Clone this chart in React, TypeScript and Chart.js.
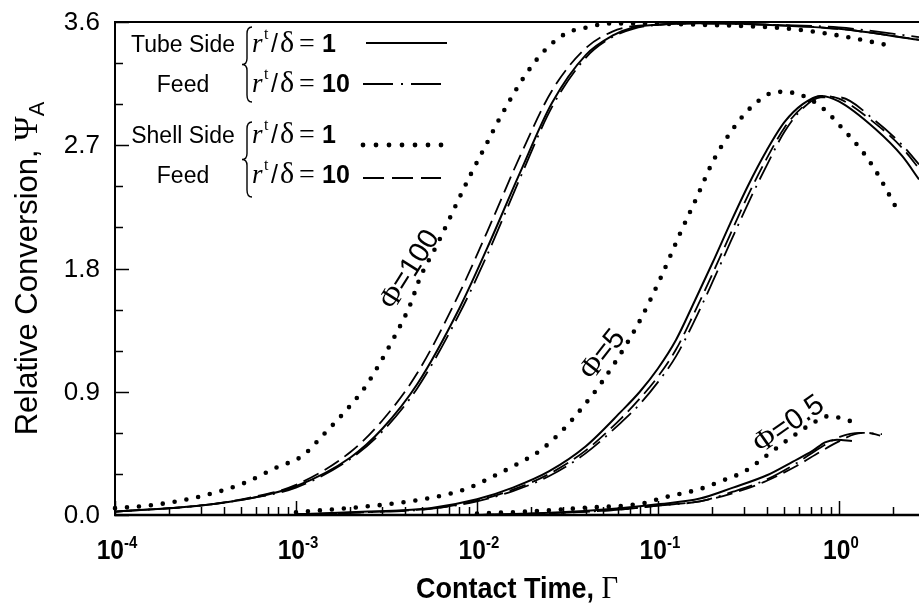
import React, { useEffect, useRef } from "react";
import { Chart, registerables } from "chart.js";

Chart.register(...registerables);

// ---------------- axes ----------------
const X_MIN = 1e-4;
const X_MAX = 2.77;
const Y_MIN = 0;
const Y_MAX = 3.6;
const Y_TICK_STEP = 0.3;
const Y_LABELS = [0, 0.9, 1.8, 2.7, 3.6];
const X_DECADES = [-4, -3, -2, -1, 0];

// ---------------- Φ = 100 ----------------
const P100_X = [1e-4, 3e-4, 5.5e-4, 1e-3, 2e-3, 3e-3, 4.7e-3, 8e-3, 0.0114, 0.0173, 0.026, 0.04, 0.056, 0.073, 0.1, 0.17, 0.4, 1.0, 2.77];
const P100_TUBE_R1 = [0.024, 0.07, 0.12, 0.21, 0.42, 0.63, 0.96, 1.51, 1.95, 2.5, 3.01, 3.36, 3.5, 3.56, 3.58, 3.59, 3.58, 3.55, 3.47];
const P100_TUBE_R10 = [0.024, 0.07, 0.12, 0.2, 0.41, 0.61, 0.93, 1.47, 1.9, 2.46, 2.98, 3.34, 3.49, 3.55, 3.58, 3.59, 3.58, 3.56, 3.49];
const P100_SHELL_R10 = [0.024, 0.07, 0.125, 0.22, 0.46, 0.69, 1.04, 1.62, 2.07, 2.62, 3.1, 3.41, 3.53, 3.57, 3.58, 3.59, 3.58, 3.55, 3.47];
const P100_SHELL_R1_X = [1e-4, 1.56e-4, 2.84e-4, 5.1e-4, 7.9e-4, 1.08e-3, 1.45e-3, 1.91e-3, 2.4e-3, 2.91e-3, 3.43e-3, 4.26e-3, 4.84e-3, 6.0e-3, 9.1e-3, 0.0114, 0.0134, 0.0189, 0.0244, 0.0314, 0.0405, 0.0543, 0.171, 0.536, 1.01, 2.04];
const P100_SHELL_R1 = [0.05, 0.07, 0.13, 0.23, 0.35, 0.43, 0.6, 0.77, 0.93, 1.11, 1.28, 1.53, 1.73, 1.97, 2.47, 2.72, 2.9, 3.23, 3.41, 3.52, 3.56, 3.59, 3.58, 3.55, 3.5, 3.42];

// ---------------- Φ = 5 ----------------
const P5_X = [0.001, 0.0025, 0.0055, 0.01, 0.0158, 0.0251, 0.0398, 0.0631, 0.0794, 0.1, 0.126, 0.158, 0.2, 0.251, 0.316, 0.398, 0.501, 0.631, 0.794, 1.0, 1.585, 2.24, 2.77];
const P5_TUBE_R1 = [0.005, 0.025, 0.05, 0.115, 0.2, 0.32, 0.5, 0.76, 0.9, 1.07, 1.28, 1.55, 1.84, 2.13, 2.41, 2.66, 2.87, 3.0, 3.06, 3.02, 2.82, 2.62, 2.45];
const P5_SHELL_R10 = [0.004, 0.022, 0.046, 0.105, 0.185, 0.3, 0.47, 0.71, 0.85, 1.01, 1.21, 1.47, 1.76, 2.05, 2.34, 2.6, 2.83, 2.98, 3.06, 3.04, 2.86, 2.68, 2.53];
const P5_TUBE_R10 = [0.004, 0.02, 0.044, 0.1, 0.175, 0.285, 0.45, 0.68, 0.81, 0.97, 1.16, 1.41, 1.7, 1.99, 2.28, 2.55, 2.8, 2.97, 3.05, 3.05, 2.88, 2.7, 2.56];
const P5_SHELL_R1_X = [1e-3, 2.34e-3, 3.76e-3, 6.83e-3, 9.1e-3, 0.0122, 0.0166, 0.0223, 0.0298, 0.0385, 0.049, 0.0766, 0.1026, 0.132, 0.164, 0.201, 0.26, 0.335, 0.454, 0.61, 0.816, 1.05, 1.34, 1.62, 2.06];
const P5_SHELL_R1 = [0.02, 0.06, 0.09, 0.15, 0.2, 0.28, 0.37, 0.47, 0.62, 0.79, 0.97, 1.38, 1.72, 2.05, 2.32, 2.58, 2.82, 2.99, 3.09, 3.07, 2.97, 2.82, 2.66, 2.5, 2.25];

// ---------------- Φ = 0.5 ----------------
const P05_TUBE_R1_X = [0.01, 0.0288, 0.0617, 0.1026, 0.1706, 0.26, 0.4, 0.557, 0.718, 0.837, 0.975, 1.18];
const P05_TUBE_R1 = [0.0, 0.02, 0.05, 0.08, 0.12, 0.2, 0.29, 0.39, 0.47, 0.53, 0.55, 0.54];
const P05_TUBE_R10_X = [0.01, 0.0288, 0.0617, 0.1026, 0.1706, 0.26, 0.4, 0.586, 0.785, 1.01, 1.305, 1.73];
const P05_TUBE_R10 = [0.0, 0.015, 0.04, 0.07, 0.1, 0.17, 0.26, 0.38, 0.49, 0.57, 0.6, 0.59];
const P05_SHELL_R10_X = [0.01, 0.0288, 0.0617, 0.1026, 0.1706, 0.26, 0.4, 0.586, 0.785, 0.975, 1.225, 1.43, 1.69];
const P05_SHELL_R10 = [0.0, 0.015, 0.04, 0.07, 0.1, 0.16, 0.25, 0.36, 0.46, 0.53, 0.59, 0.6, 0.58];
const P05_SHELL_R1_X = [0.01, 0.0223, 0.0368, 0.0866, 0.1026, 0.1706, 0.226, 0.303, 0.404, 0.536, 0.736, 0.859, 1.01, 1.305];
const P05_SHELL_R1 = [0.01, 0.03, 0.05, 0.09, 0.12, 0.19, 0.25, 0.32, 0.44, 0.56, 0.68, 0.72, 0.71, 0.66];

// curve annotations (anchored in data coordinates)
const PHI_LABELS = [
  { value: "100", x: 4.27e-3, y: 1.79, angle: -58 },
  { value: "5", x: 0.0497, y: 1.17, angle: -52 },
  { value: "0.5", x: 0.53, y: 0.66, angle: -35 },
];

type StyleKey = "solid" | "dashdot" | "dashed" | "dotted";

const SERIES: { xs: number[]; ys: number[]; style: StyleKey }[] = [
  { xs: P100_X, ys: P100_SHELL_R10, style: "dashed" },
  { xs: P100_X, ys: P100_TUBE_R10, style: "dashdot" },
  { xs: P100_X, ys: P100_TUBE_R1, style: "solid" },
  { xs: P100_SHELL_R1_X, ys: P100_SHELL_R1, style: "dotted" },
  { xs: P5_X, ys: P5_SHELL_R10, style: "dashed" },
  { xs: P5_X, ys: P5_TUBE_R10, style: "dashdot" },
  { xs: P5_X, ys: P5_TUBE_R1, style: "solid" },
  { xs: P5_SHELL_R1_X, ys: P5_SHELL_R1, style: "dotted" },
  { xs: P05_SHELL_R10_X, ys: P05_SHELL_R10, style: "dashed" },
  { xs: P05_TUBE_R10_X, ys: P05_TUBE_R10, style: "dashdot" },
  { xs: P05_TUBE_R1_X, ys: P05_TUBE_R1, style: "solid" },
  { xs: P05_SHELL_R1_X, ys: P05_SHELL_R1, style: "dotted" },
];

const STYLES: Record<StyleKey, any> = {
  solid: { borderDash: [], borderWidth: 2, borderCapStyle: "butt" },
  dashdot: { borderDash: [26, 7, 2, 7], borderWidth: 1.8, borderCapStyle: "butt" },
  dashed: { borderDash: [17, 7], borderWidth: 1.8, borderCapStyle: "butt" },
  dotted: { borderDash: [0, 12], borderWidth: 4.6, borderCapStyle: "round" },
};

const SANS = "'Liberation Sans', Arial, Helvetica, sans-serif";
const SERIF = "'Liberation Serif', 'Times New Roman', serif";

type Part = { t: string; font: string; dy?: number; gap?: number };

function drawRun(ctx: CanvasRenderingContext2D, parts: Part[], x: number, y: number, align: "left" | "center" | "right", sx = 1) {
  ctx.save();
  ctx.translate(x, y);
  ctx.scale(sx, 1);
  let total = 0;
  const widths = parts.map((p) => {
    ctx.font = p.font;
    const w = ctx.measureText(p.t).width;
    total += w + (p.gap || 0);
    return w;
  });
  let cx = align === "left" ? 0 : align === "center" ? -total / 2 : -total;
  ctx.textAlign = "left";
  parts.forEach((p, i) => {
    ctx.font = p.font;
    ctx.fillText(p.t, cx, p.dy || 0);
    cx += widths[i] + (p.gap || 0);
  });
  ctx.restore();
}

function brace(ctx: CanvasRenderingContext2D, xe: number, y0: number, y1: number) {
  const xs = xe - 5;
  const xm = xe - 10;
  const mid = (y0 + y1) / 2;
  ctx.beginPath();
  ctx.moveTo(xe, y0);
  ctx.quadraticCurveTo(xs, y0, xs, y0 + 7);
  ctx.lineTo(xs, mid - 6);
  ctx.quadraticCurveTo(xs, mid, xm, mid);
  ctx.quadraticCurveTo(xs, mid, xs, mid + 6);
  ctx.lineTo(xs, y1 - 7);
  ctx.quadraticCurveTo(xs, y1, xe, y1);
  ctx.lineWidth = 1.4;
  ctx.stroke();
}

const decorPlugin = {
  id: "decor",
  afterDatasetsDraw(chart: any) {
    const ctx: CanvasRenderingContext2D = chart.ctx;
    const { left, right, top, bottom } = chart.chartArea;
    const xs = chart.scales.x;
    const ys = chart.scales.y;
    ctx.save();
    ctx.strokeStyle = "#000";
    ctx.fillStyle = "#000";
    ctx.setLineDash([]);

    // frame
    ctx.lineWidth = 2;
    ctx.beginPath();
    ctx.moveTo(left, top);
    ctx.lineTo(right, top);
    ctx.moveTo(left, top - 1);
    ctx.lineTo(left, bottom + 1);
    ctx.stroke();
    ctx.lineWidth = 2.5;
    ctx.beginPath();
    ctx.moveTo(left - 1, bottom);
    ctx.lineTo(right, bottom);
    ctx.stroke();

    // y ticks (inward)
    ctx.lineWidth = 1.5;
    const nY = Math.round((Y_MAX - Y_MIN) / Y_TICK_STEP);
    for (let i = 0; i <= nY; i++) {
      const v = Y_MIN + i * Y_TICK_STEP;
      const py = Math.round(ys.getPixelForValue(v)) + 0.5;
      const major = Y_LABELS.some((l) => Math.abs(l - v) < 1e-6);
      ctx.beginPath();
      ctx.moveTo(left, py);
      ctx.lineTo(left + (major ? 14 : 8), py);
      ctx.stroke();
    }

    // x ticks (inward, log)
    for (const d of X_DECADES) {
      for (let m = 1; m <= 9; m++) {
        const v = m * Math.pow(10, d);
        if (v < X_MIN - 1e-12 || v > X_MAX) continue;
        const px = Math.round(xs.getPixelForValue(v)) + 0.5;
        ctx.beginPath();
        ctx.moveTo(px, bottom);
        ctx.lineTo(px, bottom - (m === 1 ? 14 : 8));
        ctx.stroke();
      }
    }

    // y labels
    ctx.font = `26px ${SANS}`;
    ctx.textAlign = "right";
    ctx.textBaseline = "middle";
    for (const l of Y_LABELS) {
      ctx.fillText(l.toFixed(1), left - 15, ys.getPixelForValue(l) + 1);
    }

    // x labels
    ctx.textBaseline = "alphabetic";
    for (const d of X_DECADES) {
      const px = xs.getPixelForValue(Math.pow(10, d));
      drawRun(ctx, [
        { t: "10", font: `bold 28px ${SANS}` },
        { t: String(d), font: `bold 17px ${SANS}`, dy: -11 },
      ], px + 2, bottom + 44, "center", 0.88);
    }

    // axis titles
    drawRun(ctx, [
      { t: "Contact Time, ", font: `bold 30px ${SANS}` },
      { t: "Γ", font: `32px ${SERIF}` },
    ], (left + right) / 2, bottom + 83, "center", 0.9);

    ctx.save();
    ctx.translate(left - 78, (top + bottom) / 2);
    ctx.rotate(-Math.PI / 2);
    drawRun(ctx, [
      { t: "Relative Conversion, ", font: `31px ${SANS}` },
      { t: "Ψ", font: `33px ${SERIF}` },
      { t: "A", font: `22px ${SANS}`, dy: 7 },
    ], 0, 0, "center");
    ctx.restore();

    // Φ labels
    ctx.textBaseline = "middle";
    for (const lab of PHI_LABELS) {
      ctx.save();
      ctx.translate(xs.getPixelForValue(lab.x), ys.getPixelForValue(lab.y));
      ctx.rotate((lab.angle * Math.PI) / 180);
      drawRun(ctx, [
        { t: "Φ", font: `30px ${SERIF}` },
        { t: "=" + lab.value, font: `29px ${SANS}` },
      ], 0, 0, "center");
      ctx.restore();
    }

    // legend
    ctx.textBaseline = "alphabetic";
    const L = left;
    const rows = [
      { group: "Tube Side", val: "1", base: 52, style: "solid" as StyleKey, sy: 43 },
      { group: "Feed", val: "10", base: 92, style: "dashdot" as StyleKey, sy: 84 },
      { group: "Shell Side", val: "1", base: 143, style: "dotted" as StyleKey, sy: 145 },
      { group: "Feed", val: "10", base: 183, style: "dashed" as StyleKey, sy: 178 },
    ];
    for (const r of rows) {
      ctx.font = `23px ${SANS}`;
      ctx.textAlign = "center";
      ctx.fillText(r.group, L + 68, r.base);
      ctx.textAlign = "left";
      ctx.font = `italic 27px ${SERIF}`;
      ctx.fillText("r", L + 137, r.base);
      ctx.font = `16px ${SERIF}`;
      ctx.fillText("t", L + 149, r.base - 13);
      ctx.font = `25px ${SANS}`;
      ctx.fillText("/", L + 156, r.base);
      ctx.font = `30px ${SERIF}`;
      ctx.fillText("δ", L + 165, r.base);
      ctx.font = `28px ${SERIF}`;
      ctx.fillText("=", L + 184, r.base);
      ctx.font = `bold 25px ${SANS}`;
      ctx.fillText(r.val, L + 207, r.base);

      const x0 = L + 248;
      const x1 = L + 326;
      if (r.style === "dotted") {
        for (let i = 0; i < 7; i++) {
          ctx.beginPath();
          ctx.arc(x0 + i * 13, r.sy, 2.4, 0, Math.PI * 2);
          ctx.fill();
        }
      } else {
        ctx.lineWidth = r.style === "solid" ? 2 : 1.8;
        ctx.setLineDash(r.style === "solid" ? [] : r.style === "dashdot" ? [30, 8, 2, 8] : [21, 8]);
        ctx.beginPath();
        ctx.moveTo(r.style === "solid" ? x0 + 3 : x0, r.sy);
        ctx.lineTo(r.style === "solid" ? x1 + 6 : x1, r.sy);
        ctx.stroke();
        ctx.setLineDash([]);
      }
    }
    brace(ctx, L + 137, 27, 102);
    brace(ctx, L + 137, 122, 197);

    ctx.restore();
  },
};

export default function App() {
  const ref = useRef<HTMLCanvasElement | null>(null);
  useEffect(() => {
    if (!ref.current) return;
    const datasets = SERIES.map((s) => ({
      data: s.xs.map((x, i) => ({ x, y: s.ys[i] })),
      borderColor: "#000",
      backgroundColor: "#000",
      pointRadius: 0,
      fill: false,
      cubicInterpolationMode: "monotone" as const,
      clip: 6,
      ...STYLES[s.style],
    }));
    const chart = new Chart(ref.current, {
      type: "line",
      data: { datasets },
      options: {
        animation: false,
        responsive: false,
        devicePixelRatio: 1,
        layout: { padding: { left: 115, right: 0, top: 22, bottom: 93 } },
        plugins: { legend: { display: false }, tooltip: { enabled: false } },
        scales: {
          x: { type: "logarithmic", min: X_MIN, max: X_MAX, display: false },
          y: { type: "linear", min: Y_MIN, max: Y_MAX, display: false },
        },
      },
      plugins: [decorPlugin],
    });
    return () => chart.destroy();
  }, []);
  return (
    <div style={{ position: "fixed", left: 0, top: 0, width: 919, height: 608, background: "#fff" }}>
      <canvas ref={ref} width={919} height={608} style={{ display: "block" }} />
    </div>
  );
}
